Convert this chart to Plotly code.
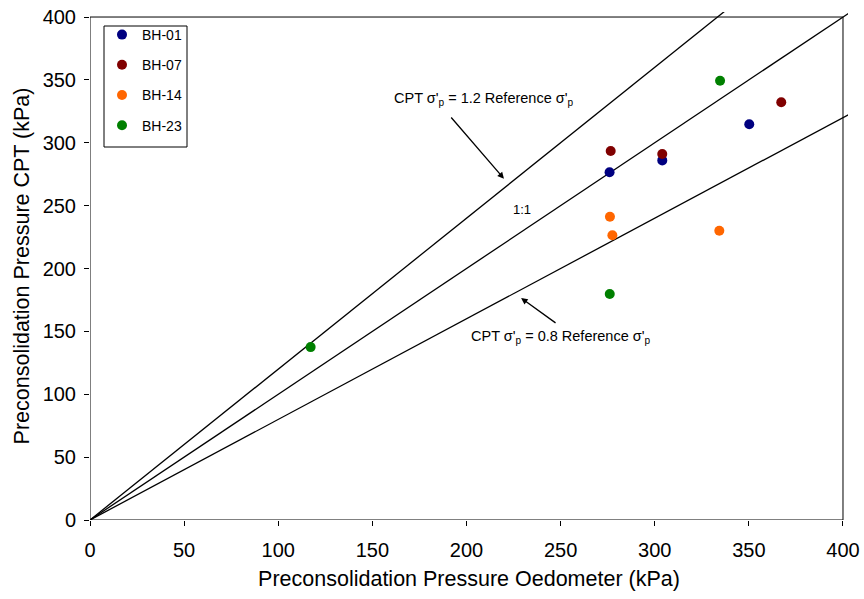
import plotly.graph_objects as go

# Preconsolidation pressure: oedometer (x) vs CPT-derived (y), kPa
boreholes = ["BH-01", "BH-07", "BH-14", "BH-23"]
colors = ["#000080", "#800000", "#FF6600", "#008000"]
oed = {
    "BH-01": [276.0, 304.0, 350.2],
    "BH-07": [276.6, 304.0, 367.2],
    "BH-14": [276.2, 277.5, 334.3],
    "BH-23": [117.2, 276.1, 334.7],
}
cpt = {
    "BH-01": [276.5, 286.0, 314.7],
    "BH-07": [293.4, 291.1, 332.2],
    "BH-14": [241.2, 226.4, 230.1],
    "BH-23": [137.5, 179.7, 349.3],
}

# Reference ratio lines CPT = k * Oedometer
ratios = [1.2, 1.0, 0.8]
line_x = [0, 420]

tick_vals = [0, 50, 100, 150, 200, 250, 300, 350, 400]

# Axis ranges run slightly past 400 so the ratio lines overshoot the frame
x_max = 402.66
y_max = 404.0

W, H = 864, 599
m_l, m_r, m_t, m_b = 90, 16, 12, 79
plot_w = W - m_l - m_r
plot_h = H - m_t - m_b


def px_x(p):
    """Paper x fraction for a pixel column."""
    return (p - m_l) / plot_w


def px_y(p):
    """Paper y fraction for a pixel row."""
    return (H - m_b - p) / plot_h


fig = go.Figure()

for k in ratios:
    fig.add_trace(go.Scatter(
        x=line_x, y=[k * v for v in line_x], mode="lines",
        line=dict(color="black", width=1.3), showlegend=False,
        hoverinfo="skip",
    ))

for name, col in zip(boreholes, colors):
    fig.add_trace(go.Scatter(
        x=oed[name], y=cpt[name], mode="markers", name=name,
        legendgroup=name,
        marker=dict(color=col, size=10, line=dict(width=0)),
    ))

# Frame around the 0-400 square
fig.add_shape(type="rect", xref="x", yref="y", x0=0, y0=0, x1=400, y1=400,
              line=dict(color="black", width=1), layer="above")

# Legend box outline
fig.add_shape(type="rect", xref="paper", yref="paper",
              x0=px_x(104), x1=px_x(187), y0=px_y(147), y1=px_y(26),
              line=dict(color="black", width=1), fillcolor="white",
              layer="below")

font = "Liberation Sans, Arial, sans-serif"
ann_font = dict(family=font, size=14.5, color="black")

fig.add_annotation(x=208.8, y=334.8, xref="x", yref="y", showarrow=False,
                   text="CPT σ'<sub>p</sub> = 1.2 Reference σ'<sub>p</sub>",
                   font=ann_font)
fig.add_annotation(x=219.9, y=271.4, ax=191.2, ay=321.3, xref="x", yref="y",
                   axref="x", ayref="y", text="", showarrow=True,
                   arrowhead=2, arrowsize=1, arrowwidth=1.3,
                   arrowcolor="black")
fig.add_annotation(x=249.7, y=145.5, xref="x", yref="y", showarrow=False,
                   text="CPT σ'<sub>p</sub> = 0.8 Reference σ'<sub>p</sub>",
                   font=ann_font)
fig.add_annotation(x=229.0, y=176.5, ax=248.1, ay=155.9, xref="x", yref="y",
                   axref="x", ayref="y", text="", showarrow=True,
                   arrowhead=2, arrowsize=1, arrowwidth=1.3,
                   arrowcolor="black")
fig.add_annotation(x=229.5, y=247.3, xref="x", yref="y", showarrow=False,
                   text="1:1", font=dict(family=font, size=13, color="black"))

axis_common = dict(
    showgrid=False, zeroline=False, showline=False,
    ticks="outside", ticklen=5, tickwidth=1, tickcolor="black",
    tickvals=tick_vals, tickfont=dict(family=font, size=20, color="black"),
)

fig.update_xaxes(range=[0, x_max], ticklabelstandoff=7,
                 title=dict(text="Preconsolidation Pressure Oedometer (kPa)",
                            font=dict(family=font, size=21.5, color="black"),
                            standoff=10),
                 **axis_common)
fig.update_yaxes(range=[0, y_max], ticklabelstandoff=4,
                 title=dict(text="Preconsolidation Pressure CPT (kPa)",
                            font=dict(family=font, size=21.5, color="black"),
                            standoff=7),
                 **axis_common)

fig.update_layout(
    width=W, height=H,
    margin=dict(l=m_l, r=m_r, t=m_t, b=m_b, autoexpand=False),
    plot_bgcolor="white", paper_bgcolor="white",
    font=dict(family=font, color="black"),
    legend=dict(
        x=px_x(102), y=px_y(19),
        xanchor="left", yanchor="top",
        borderwidth=0, bgcolor="rgba(0,0,0,0)",
        font=dict(family=font, size=14, color="black"),
        tracegroupgap=9,
    ),
)

fig.write_html("out.html")
